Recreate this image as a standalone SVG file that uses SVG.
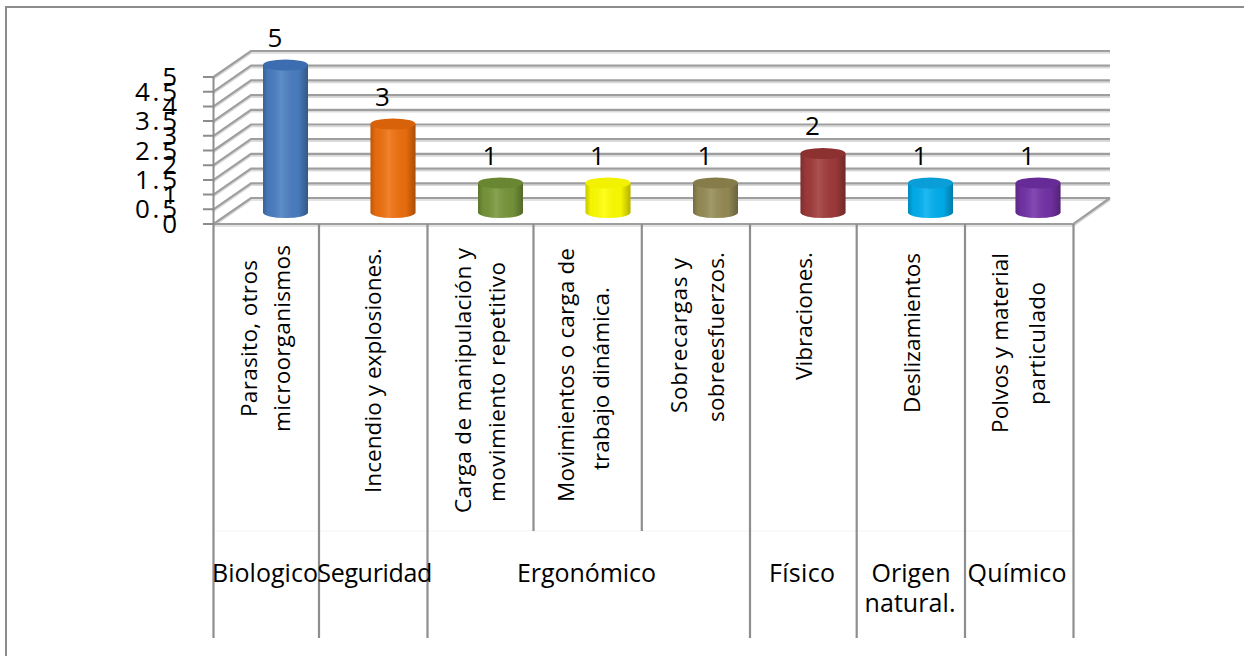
<svg xmlns="http://www.w3.org/2000/svg" width="1244" height="656" viewBox="0 0 1244 656">
<style>
  .t { font-family: "Open Sans", "Liberation Sans", sans-serif; fill: #000; }
  .num { font-size: 26px; }
  .cat { font-size: 22.5px; }
  .grp { font-size: 25px; }
  .g { fill: none; stroke: #9e9e9e; stroke-width: 2.2; }
  .gs { fill: none; stroke: #d9d9d9; stroke-width: 1.6; }
  .ax { stroke: #8c8c8c; stroke-width: 2; fill: none; }
  .div { stroke: #8e8e8e; stroke-width: 2.2; }
</style>
<defs>
  <linearGradient id="shade" x1="0" y1="0" x2="1" y2="0">
    <stop offset="0" stop-color="#000" stop-opacity="0.22"/>
    <stop offset="0.12" stop-color="#000" stop-opacity="0.04"/>
    <stop offset="0.4" stop-color="#fff" stop-opacity="0.12"/>
    <stop offset="0.78" stop-color="#000" stop-opacity="0.04"/>
    <stop offset="1" stop-color="#000" stop-opacity="0.3"/>
  </linearGradient>
</defs>
<rect x="0" y="0" width="1244" height="656" fill="#fff"/>
<g id="border">
  <polyline class="ax" points="6,656 6,7 1244,7"/>
</g>
<g id="grid">
  <polyline class="gs" points="213.5,226 251,200 1110,200"/>
  <polyline class="gs" points="213.5,211.3 251,185.3 1110,185.3"/>
  <polyline class="gs" points="213.5,196.6 251,170.6 1110,170.6"/>
  <polyline class="gs" points="213.5,181.9 251,155.9 1110,155.9"/>
  <polyline class="gs" points="213.5,167.2 251,141.2 1110,141.2"/>
  <polyline class="gs" points="213.5,152.5 251,126.5 1110,126.5"/>
  <polyline class="gs" points="213.5,137.8 251,111.8 1110,111.8"/>
  <polyline class="gs" points="213.5,123.1 251,97.1 1110,97.1"/>
  <polyline class="gs" points="213.5,108.4 251,82.4 1110,82.4"/>
  <polyline class="gs" points="213.5,93.7 251,67.7 1110,67.7"/>
  <polyline class="gs" points="213.5,79 251,53 1110,53"/>
  <polyline class="g" points="213.5,224 251,198 1110,198"/>
  <polyline class="g" points="213.5,209.3 251,183.3 1110,183.3"/>
  <polyline class="g" points="213.5,194.6 251,168.6 1110,168.6"/>
  <polyline class="g" points="213.5,179.9 251,153.9 1110,153.9"/>
  <polyline class="g" points="213.5,165.2 251,139.2 1110,139.2"/>
  <polyline class="g" points="213.5,150.5 251,124.5 1110,124.5"/>
  <polyline class="g" points="213.5,135.8 251,109.8 1110,109.8"/>
  <polyline class="g" points="213.5,121.1 251,95.1 1110,95.1"/>
  <polyline class="g" points="213.5,106.4 251,80.4 1110,80.4"/>
  <polyline class="g" points="213.5,91.7 251,65.7 1110,65.7"/>
  <polyline class="g" points="213.5,77 251,51 1110,51"/>
  <polyline class="gs" points="213.5,226 1073.5,226 1110,200"/>
  <polyline class="g" points="213.5,224 1073.5,224 1110,198"/>
</g>
<g id="axis">
  <line class="ax" x1="213.5" y1="77" x2="213.5" y2="224"/>
  <path class="ax" d="M203,77H213.5M203,91.7H213.5M203,106.4H213.5M203,121.1H213.5M203,135.8H213.5M203,150.5H213.5M203,165.2H213.5M203,179.9H213.5M203,194.6H213.5M203,209.3H213.5M203,224H213.5"/>
  <g class="t num" text-anchor="end">
    <text x="177" y="86">5</text>
    <text x="177" y="100.7" textLength="42" lengthAdjust="spacing">4.5</text>
    <text x="177" y="115.4">4</text>
    <text x="177" y="130.1" textLength="42" lengthAdjust="spacing">3.5</text>
    <text x="177" y="144.8">3</text>
    <text x="177" y="159.5" textLength="42" lengthAdjust="spacing">2.5</text>
    <text x="177" y="174.2">2</text>
    <text x="177" y="188.9" textLength="42" lengthAdjust="spacing">1.5</text>
    <text x="177" y="203.6">1</text>
    <text x="177" y="218.3" textLength="42" lengthAdjust="spacing">0.5</text>
    <text x="177" y="233">0</text>
  </g>
</g>
<g id="table">
  <line x1="213.5" y1="531" x2="1073.5" y2="531" stroke="#f4f4f4" stroke-width="1"/>
  <line class="div" x1="213.5" y1="224" x2="213.5" y2="638"/>
  <line class="div" x1="319" y1="224" x2="319" y2="638"/>
  <line class="div" x1="427.5" y1="224" x2="427.5" y2="638"/>
  <line class="div" x1="533.5" y1="224" x2="533.5" y2="531"/>
  <line class="div" x1="641.8" y1="224" x2="641.8" y2="531"/>
  <line class="div" x1="750" y1="224" x2="750" y2="638"/>
  <line class="div" x1="856.7" y1="224" x2="856.7" y2="638"/>
  <line class="div" x1="965" y1="224" x2="965" y2="638"/>
  <line class="div" x1="1073.5" y1="224" x2="1073.5" y2="638"/>
</g>
<g id="bars">
  <g id="bar-biologico">
    <path d="M263,65V212.5A22.5,5.5 0 0 0 308,212.5V65Z" fill="#4A7EC2"/>
    <path d="M263,65V212.5A22.5,5.5 0 0 0 308,212.5V65Z" fill="url(#shade)"/>
    <ellipse cx="285.5" cy="65" rx="22.5" ry="5.5" fill="#3C6DB0"/>
  </g>
  <g id="bar-seguridad">
    <path d="M370.5,124V212.5A22.5,5.5 0 0 0 415.5,212.5V124Z" fill="#F0700E"/>
    <path d="M370.5,124V212.5A22.5,5.5 0 0 0 415.5,212.5V124Z" fill="url(#shade)"/>
    <ellipse cx="393" cy="124" rx="22.5" ry="5.5" fill="#D8620A"/>
  </g>
  <g id="bar-carga">
    <path d="M478,183V212.5A22.5,5.5 0 0 0 523,212.5V183Z" fill="#77963A"/>
    <path d="M478,183V212.5A22.5,5.5 0 0 0 523,212.5V183Z" fill="url(#shade)"/>
    <ellipse cx="500.5" cy="183" rx="22.5" ry="5.5" fill="#698632"/>
  </g>
  <g id="bar-movimientos">
    <path d="M585.5,183V212.5A22.5,5.5 0 0 0 630.5,212.5V183Z" fill="#FFFF00"/>
    <path d="M585.5,183V212.5A22.5,5.5 0 0 0 630.5,212.5V183Z" fill="url(#shade)"/>
    <ellipse cx="608" cy="183" rx="22.5" ry="5.5" fill="#F2F200"/>
  </g>
  <g id="bar-sobrecargas">
    <path d="M693,183V212.5A22.5,5.5 0 0 0 738,212.5V183Z" fill="#968C56"/>
    <path d="M693,183V212.5A22.5,5.5 0 0 0 738,212.5V183Z" fill="url(#shade)"/>
    <ellipse cx="715.5" cy="183" rx="22.5" ry="5.5" fill="#857C4A"/>
  </g>
  <g id="bar-vibraciones">
    <path d="M800.5,153.5V212.5A22.5,5.5 0 0 0 845.5,212.5V153.5Z" fill="#A03A3A"/>
    <path d="M800.5,153.5V212.5A22.5,5.5 0 0 0 845.5,212.5V153.5Z" fill="url(#shade)"/>
    <ellipse cx="823" cy="153.5" rx="22.5" ry="5.5" fill="#8C3030"/>
  </g>
  <g id="bar-deslizamientos">
    <path d="M908,183V212.5A22.5,5.5 0 0 0 953,212.5V183Z" fill="#00B0F0"/>
    <path d="M908,183V212.5A22.5,5.5 0 0 0 953,212.5V183Z" fill="url(#shade)"/>
    <ellipse cx="930.5" cy="183" rx="22.5" ry="5.5" fill="#0A9ED8"/>
  </g>
  <g id="bar-polvos">
    <path d="M1015.5,183V212.5A22.5,5.5 0 0 0 1060.5,212.5V183Z" fill="#7432A8"/>
    <path d="M1015.5,183V212.5A22.5,5.5 0 0 0 1060.5,212.5V183Z" fill="url(#shade)"/>
    <ellipse cx="1038" cy="183" rx="22.5" ry="5.5" fill="#662B96"/>
  </g>
</g>
<g id="values" class="t num" text-anchor="middle">
  <text x="275" y="46.5">5</text>
  <text x="382.5" y="105.5">3</text>
  <text x="490" y="164.5">1</text>
  <text x="597.5" y="164.5">1</text>
  <text x="705" y="164.5">1</text>
  <text x="812.5" y="135">2</text>
  <text x="920" y="164.5">1</text>
  <text x="1027.5" y="164.5">1</text>
</g>
<g id="categories" class="t cat" text-anchor="middle">
  <text transform="translate(257,338.5) rotate(-90)" textLength="157" lengthAdjust="spacing">Parasito, otros</text>
  <text transform="translate(290,338.5) rotate(-90)" textLength="187" lengthAdjust="spacing">microorganismos</text>
  <text transform="translate(381,370.5) rotate(-90)" textLength="245" lengthAdjust="spacing">Incendio y explosiones.</text>
  <text transform="translate(471,380.5) rotate(-90)" textLength="265" lengthAdjust="spacing">Carga de manipulación y</text>
  <text transform="translate(505,382) rotate(-90)" textLength="240" lengthAdjust="spacing">movimiento repetitivo</text>
  <text transform="translate(574,375) rotate(-90)" textLength="254" lengthAdjust="spacing">Movimientos o carga de</text>
  <text transform="translate(609,378.5) rotate(-90)" textLength="183" lengthAdjust="spacing">trabajo dinámica.</text>
  <text transform="translate(687,335.5) rotate(-90)" textLength="155" lengthAdjust="spacing">Sobrecargas y</text>
  <text transform="translate(723.5,337) rotate(-90)" textLength="170" lengthAdjust="spacing">sobreesfuerzos.</text>
  <text transform="translate(811.5,316) rotate(-90)" textLength="128" lengthAdjust="spacing">Vibraciones.</text>
  <text transform="translate(920,333) rotate(-90)" textLength="160" lengthAdjust="spacing">Deslizamientos</text>
  <text transform="translate(1007.5,343) rotate(-90)" textLength="180" lengthAdjust="spacing">Polvos y material</text>
  <text transform="translate(1045,343.5) rotate(-90)" textLength="123" lengthAdjust="spacing">particulado</text>
</g>
<g id="groups" class="t grp" text-anchor="middle">
  <text x="265" y="581.7" textLength="106" lengthAdjust="spacing">Biologico</text>
  <text x="374.8" y="581.7" textLength="115" lengthAdjust="spacing">Seguridad</text>
  <text x="586.5" y="581.7" textLength="139" lengthAdjust="spacing">Ergonómico</text>
  <text x="802" y="581.7" textLength="66" lengthAdjust="spacing">Físico</text>
  <text x="911" y="581.7" textLength="79" lengthAdjust="spacing">Origen</text>
  <text x="910" y="611.7" textLength="91" lengthAdjust="spacing">natural.</text>
  <text x="1017" y="581.7" textLength="99" lengthAdjust="spacing">Químico</text>
</g>
</svg>
